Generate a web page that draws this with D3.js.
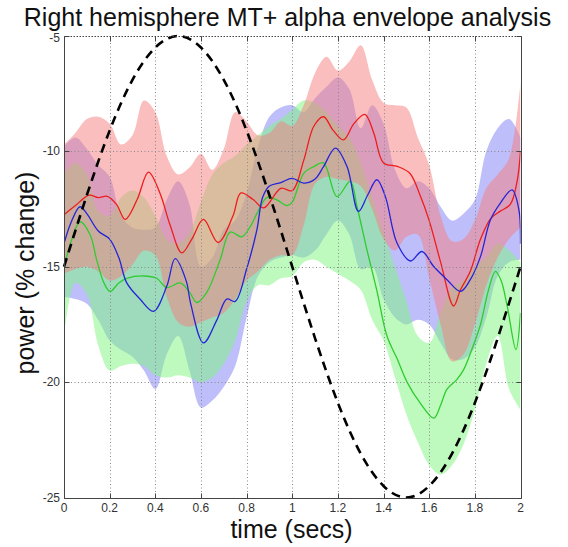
<!DOCTYPE html>
<html><head><meta charset="utf-8">
<script src="https://cdn.jsdelivr.net/npm/d3@7"></script>
<style>body{margin:0;background:#fff}svg{display:block}</style>
</head><body>
<script>
// ---------- data ----------
const xTicks=[0,0.2,0.4,0.6,0.8,1,1.2,1.4,1.6,1.8,2];
const xTickLabels=["0","0.2","0.4","0.6","0.8","1","1.2","1.4","1.6","1.8","2"];
const yTicks=[-25,-20,-15,-10,-5];
const yTickLabels=["-25","-20","-15","-10","-5"];

// dashed reference cycle
const cueT=[0,0.1,0.2,0.3,0.4,0.5,0.6,0.7,0.8,0.9,1,1.1,1.2,1.3,1.4,1.5,1.6,1.7,1.8,1.9,2];
const cueV=[-15,-11.9,-9.1,-6.9,-5.5,-5,-5.5,-6.9,-9.1,-11.9,-15,-18.1,-20.9,-23.1,-24.5,-25,-24.5,-23.1,-20.9,-18.1,-15];

// mean lines [time, value]
const redMean=[[0,-12.75],[0.05,-12.35],[0.11,-11.9],[0.15,-12.0],[0.19,-11.95],[0.23,-12.3],[0.268,-12.95],[0.32,-12.1],[0.37,-10.9],[0.42,-11.8],[0.465,-13.2],[0.516,-14.4],[0.56,-13.8],[0.611,-12.95],[0.675,-13.95],[0.74,-12.8],[0.775,-11.8],[0.83,-12.1],[0.875,-12.45],[0.95,-11.6],[1.0,-11.7],[1.05,-10.4],[1.095,-8.9],[1.137,-8.5],[1.18,-9.1],[1.225,-9.5],[1.27,-8.8],[1.318,-8.4],[1.357,-9.2],[1.4,-10.5],[1.46,-10.65],[1.515,-10.95],[1.56,-11.9],[1.6,-13.0],[1.65,-14.8],[1.707,-16.7],[1.737,-16.0],[1.78,-15.2],[1.825,-13.8],[1.87,-12.9],[1.91,-12.6],[1.955,-12.3],[1.985,-11.3],[2.0,-10.0]];
const blueMean=[[0,-14.0],[0.03,-13.1],[0.07,-12.4],[0.1,-12.7],[0.15,-13.45],[0.2,-13.8],[0.24,-14.6],[0.275,-15.7],[0.333,-16.4],[0.392,-16.93],[0.45,-15.85],[0.487,-14.65],[0.535,-15.6],[0.555,-16.6],[0.611,-18.3],[0.67,-17.3],[0.713,-16.4],[0.75,-16.5],[0.8,-15.1],[0.845,-13.4],[0.87,-12.0],[0.9,-11.5],[0.95,-11.35],[1.0,-11.17],[1.05,-11.38],[1.1,-11.2],[1.137,-10.66],[1.189,-9.86],[1.24,-10.66],[1.29,-12.6],[1.33,-11.9],[1.371,-11.23],[1.408,-11.96],[1.459,-13.97],[1.518,-14.75],[1.568,-14.34],[1.62,-14.99],[1.678,-15.56],[1.737,-16.07],[1.78,-15.56],[1.825,-14.55],[1.868,-12.97],[1.912,-12.24],[1.963,-11.67],[1.993,-12.53],[2.0,-14.0]];
const greenMean=[[0,-15.0],[0.035,-13.8],[0.07,-13.05],[0.114,-13.6],[0.143,-14.7],[0.175,-15.7],[0.202,-16.07],[0.24,-15.7],[0.275,-15.5],[0.348,-15.4],[0.406,-15.5],[0.45,-15.9],[0.509,-15.7],[0.55,-16.1],[0.582,-16.55],[0.626,-16.1],[0.684,-14.7],[0.728,-13.5],[0.779,-13.7],[0.816,-13.26],[0.85,-12.6],[0.889,-12.0],[0.933,-12.1],[0.977,-12.35],[1.0,-12.2],[1.05,-10.95],[1.094,-10.66],[1.137,-10.5],[1.196,-11.96],[1.254,-11.3],[1.284,-12.4],[1.327,-14.26],[1.37,-16.0],[1.415,-18.0],[1.46,-19.0],[1.503,-20.0],[1.56,-20.9],[1.62,-21.56],[1.65,-21.0],[1.678,-20.3],[1.72,-19.9],[1.751,-19.46],[1.79,-18.5],[1.825,-17.5],[1.86,-16.0],[1.89,-15.2],[1.915,-15.6],[1.942,-16.72],[1.98,-18.59],[2.0,-17.0]];

// shaded bands (upper / lower) on a common time grid
const bandT=[0,0.05,0.1,0.15,0.2,0.25,0.3,0.35,0.4,0.45,0.5,0.55,0.6,0.65,0.7,0.75,0.8,0.85,0.9,0.95,1,1.05,1.1,1.15,1.2,1.25,1.3,1.35,1.4,1.45,1.5,1.55,1.6,1.65,1.7,1.75,1.8,1.85,1.9,1.95,2];
const redHi=[-9.7,-9.2,-8.6,-8.5,-8.8,-9.7,-9.3,-7.8,-8.3,-10.2,-11.0,-10.7,-10.1,-10.8,-9.9,-8.3,-8.7,-9.3,-9.2,-8.7,-8.9,-8.0,-6.6,-5.9,-6.5,-6.1,-5.4,-6.9,-7.9,-8.0,-8.1,-9.4,-10.6,-12.8,-13.9,-13.8,-13.0,-11.6,-11.0,-10.3,-7.0];
const redLo=[-15.3,-15.1,-15.0,-15.2,-15.6,-15.4,-14.9,-14.3,-14.5,-16.3,-17.4,-17.6,-17.4,-17.2,-17.0,-16.4,-15.6,-15.2,-14.7,-14.5,-14.5,-13.2,-11.4,-11.1,-11.2,-11.3,-11.5,-12.5,-13.8,-14.3,-13.7,-13.6,-15.5,-17.5,-19.1,-18.8,-17.5,-15.8,-14.6,-13.8,-13.3];
const blueHi=[-9.8,-9.4,-9.9,-10.6,-11.1,-12.8,-13.3,-13.4,-13.3,-12.1,-11.3,-12.3,-15.0,-14.6,-13.4,-13.0,-11.8,-9.8,-8.5,-8.1,-8.0,-8.3,-7.7,-7.2,-6.8,-7.3,-9.0,-8.0,-8.8,-10.8,-11.6,-11.3,-11.6,-12.4,-13.0,-12.7,-12.1,-10.0,-9.0,-8.6,-9.4];
const blueLo=[-16.3,-16.4,-16.6,-17.3,-18.2,-18.6,-18.9,-19.5,-20.3,-18.8,-18.0,-19.5,-21.1,-20.8,-20.2,-19.3,-17.2,-15.4,-14.8,-14.6,-14.5,-14.6,-14.3,-13.6,-13.0,-13.6,-15.1,-15.0,-16.4,-17.2,-17.5,-17.3,-17.5,-18.3,-19.0,-19.0,-18.5,-17.2,-15.4,-14.8,-14.7];
const greenHi=[-11.0,-10.5,-11.0,-12.6,-12.8,-12.0,-11.7,-12.0,-12.8,-13.8,-14.0,-13.5,-12.2,-11.0,-10.5,-10.2,-9.7,-9.3,-8.9,-8.6,-8.2,-7.8,-7.9,-8.3,-8.9,-9.4,-10.5,-12.0,-13.5,-15.0,-16.5,-18.0,-18.3,-17.0,-15.9,-15.6,-15.0,-14.6,-14.0,-14.3,-14.8];
const greenLo=[-18.0,-15.7,-16.2,-18.4,-19.5,-19.3,-19.2,-19.3,-19.7,-19.8,-19.7,-19.8,-20.0,-19.8,-19.2,-18.2,-16.5,-15.8,-15.8,-15.5,-15.4,-14.8,-14.7,-15.0,-15.3,-15.6,-16.0,-17.3,-18.2,-19.8,-21.4,-22.6,-23.6,-24.0,-23.6,-22.7,-21.2,-19.2,-18.0,-20.3,-21.2];

// ---------- drawing ----------
const W=568,H=547;
const FONT='"Liberation Sans", Arial, Helvetica, sans-serif';
const svg=d3.select("body").append("svg").attr("width",W).attr("height",H);
svg.append("rect").attr("width",W).attr("height",H).attr("fill","#fff");

const x=d3.scaleLinear().domain([0,2]).range([64,520.5]);
const y=d3.scaleLinear().domain([-25,-5]).range([497.5,36]);

svg.append("clipPath").attr("id","pc").append("rect")
  .attr("x",x(0)).attr("y",y(-5)).attr("width",x(2)-x(0)).attr("height",y(-25)-y(-5));
const plot=svg.append("g").attr("clip-path","url(#pc)");

function band(hi,lo,fill){
  const data=bandT.map((t,i)=>({t,hi:hi[i],lo:lo[i]}));
  plot.append("path").datum(data)
    .attr("d",d3.area().x(d=>x(d.t)).y0(d=>y(d.lo)).y1(d=>y(d.hi)).curve(d3.curveCatmullRom.alpha(0.5)))
    .attr("fill",fill).attr("fill-opacity",0.5).attr("stroke","none");
}
band(blueHi,blueLo,"rgb(125,125,245)");
band(greenHi,greenLo,"rgb(125,245,125)");
band(redHi,redLo,"rgb(245,125,125)");

// grid
const grid=svg.append("g").attr("stroke","#8a8a8a").attr("stroke-width",1).attr("stroke-dasharray","1,2.5");
xTicks.slice(1,-1).forEach(t=>{
  const px=Math.round(x(t))+0.5;
  grid.append("line").attr("x1",px).attr("x2",px).attr("y1",y(-5)).attr("y2",y(-25));
});
yTicks.slice(1,-1).forEach(v=>{
  const py=Math.round(y(v))+0.5;
  grid.append("line").attr("x1",x(0)).attr("x2",x(2)).attr("y1",py).attr("y2",py);
});

// mean lines
const line=d3.line().x(d=>x(d[0])).y(d=>y(d[1])).curve(d3.curveCatmullRom.alpha(0.5));
plot.append("path").datum(greenMean).attr("d",line).attr("fill","none").attr("stroke","#2ecc2e").attr("stroke-width",1.3);
plot.append("path").datum(redMean).attr("d",line).attr("fill","none").attr("stroke","#ee1c1c").attr("stroke-width",1.3);
plot.append("path").datum(blueMean).attr("d",line).attr("fill","none").attr("stroke","#2424d8").attr("stroke-width",1.3);

// dashed cycle
const cue=cueT.map((t,i)=>[t,cueV[i]]);
svg.append("path").datum(cue)
  .attr("d",d3.line().x(d=>x(d[0])).y(d=>y(d[1])).curve(d3.curveNatural))
  .attr("fill","none").attr("stroke","#000").attr("stroke-width",2.6).attr("stroke-dasharray","9,6");

// box
const ax=svg.append("g").attr("stroke","#444").attr("stroke-width",1).attr("fill","none");
const L=Math.round(x(0))+0.5,R=Math.round(x(2))+0.5,T=Math.round(y(-5))+0.5,B=Math.round(y(-25))+0.5;
ax.append("line").attr("x1",L).attr("x2",L).attr("y1",T).attr("y2",B);
ax.append("line").attr("x1",L).attr("x2",R).attr("y1",B).attr("y2",B);
ax.append("line").attr("x1",R).attr("x2",R).attr("y1",T).attr("y2",B);
ax.append("line").attr("x1",L).attr("x2",R).attr("y1",T).attr("y2",T).attr("stroke-dasharray","1.5,1.5");
xTicks.forEach(t=>{
  const px=Math.round(x(t))+0.5;
  ax.append("line").attr("x1",px).attr("x2",px).attr("y1",B).attr("y2",B-5);
  ax.append("line").attr("x1",px).attr("x2",px).attr("y1",T).attr("y2",T+5);
});
yTicks.forEach(v=>{
  const py=Math.round(y(v))+0.5;
  ax.append("line").attr("x1",L).attr("x2",L+5).attr("y1",py).attr("y2",py);
  ax.append("line").attr("x1",R).attr("x2",R-5).attr("y1",py).attr("y2",py);
});

// tick labels
const tl=svg.append("g").attr("font-family",FONT).attr("font-size",12).attr("fill","#333");
xTicks.forEach((t,i)=>{
  tl.append("text").attr("x",x(t)).attr("y",511.5).attr("text-anchor","middle").text(xTickLabels[i]);
});
yTicks.forEach((v,i)=>{
  const dy = v===-5 ? 6 : 4;
  tl.append("text").attr("x",60).attr("y",y(v)+dy).attr("text-anchor","end").text(yTickLabels[i]);
});

// titles
svg.append("text").attr("x",287.5).attr("y",26).attr("text-anchor","middle")
  .attr("font-family",FONT).attr("font-size",25).attr("fill","#111")
  .text("Right hemisphere MT+ alpha envelope analysis");
svg.append("text").attr("x",291.5).attr("y",538).attr("text-anchor","middle")
  .attr("font-family",FONT).attr("font-size",25).attr("fill","#111")
  .text("time (secs)");
svg.append("text").attr("transform","translate(34,273) rotate(-90)").attr("text-anchor","middle")
  .attr("font-family",FONT).attr("font-size",25).attr("fill","#111")
  .text("power (% change)");
</script>
</body></html>
